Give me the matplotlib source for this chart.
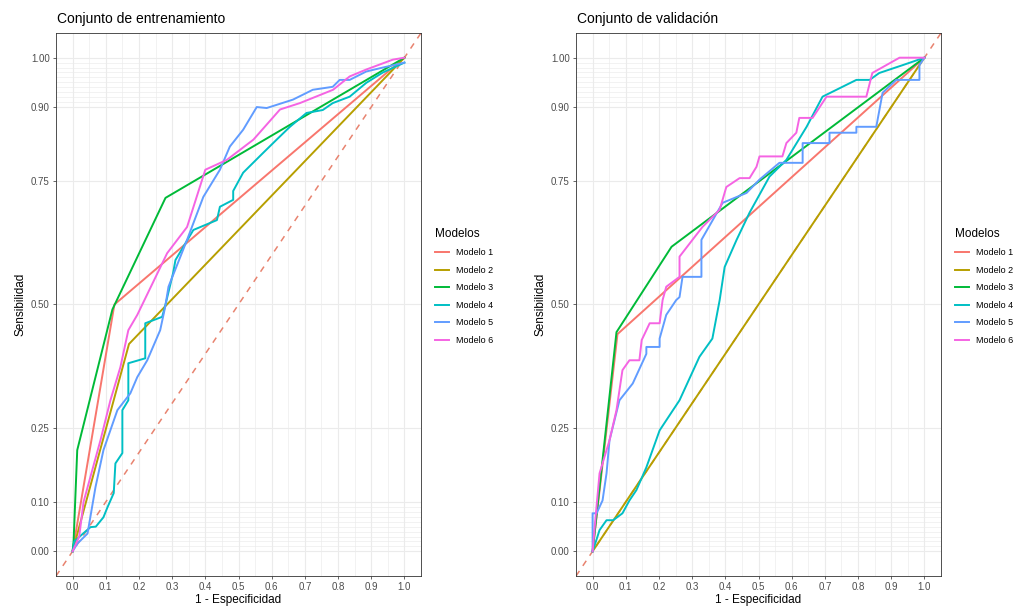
import matplotlib
matplotlib.use("Agg")
import matplotlib.pyplot as plt
import numpy as np

models = ["Modelo 1", "Modelo 2", "Modelo 3", "Modelo 4", "Modelo 5", "Modelo 6"]
colors = ["#F8766D", "#B79F00", "#00BA38", "#00BFC4", "#619CFF", "#F564E3"]

# Training set ROC curves (FPR, TPR)
train_fpr = [
    [0, 0.126, 1.0],
    [0, 0.17, 1.0],
    [0, 0.003, 0.014, 0.12, 0.28, 1.0],
    [0, 0.005, 0.03, 0.054, 0.07, 0.093, 0.105, 0.124, 0.129, 0.15, 0.15, 0.168, 0.168, 0.219, 0.219,
     0.27, 0.28, 0.303, 0.31, 0.364, 0.435, 0.444, 0.484, 0.484, 0.514, 0.574, 0.615, 0.655, 0.705,
     0.754, 0.784, 0.835, 0.885, 0.935, 1.0],
    [0, 0.015, 0.045, 0.069, 0.093, 0.135, 0.174, 0.195, 0.225, 0.264, 0.279, 0.289, 0.345, 0.394,
     0.444, 0.474, 0.514, 0.555, 0.585, 0.664, 0.724, 0.784, 0.805, 0.835, 0.885, 0.935, 1.0],
    [0, 0.02, 0.033, 0.084, 0.114, 0.144, 0.168, 0.195, 0.285, 0.345, 0.40, 0.465, 0.545, 0.625,
     0.685, 0.785, 0.835, 0.885, 0.965, 1.0],
]
train_tpr = [
    [0, 0.50, 1.0],
    [0, 0.42, 1.0],
    [0, 0.02, 0.205, 0.49, 0.716, 1.0],
    [0, 0.02, 0.035, 0.049, 0.05, 0.069, 0.089, 0.118, 0.178, 0.199, 0.286, 0.306, 0.381, 0.391, 0.462,
     0.475, 0.50, 0.564, 0.59, 0.651, 0.671, 0.698, 0.712, 0.73, 0.767, 0.807, 0.834, 0.86, 0.888,
     0.894, 0.908, 0.921, 0.949, 0.97, 0.99],
    [0, 0.016, 0.036, 0.13, 0.205, 0.286, 0.32, 0.353, 0.387, 0.448, 0.495, 0.536, 0.631, 0.718,
     0.773, 0.82, 0.854, 0.90, 0.898, 0.915, 0.935, 0.941, 0.955, 0.955, 0.972, 0.98, 0.99],
    [0, 0.03, 0.10, 0.225, 0.306, 0.373, 0.448, 0.479, 0.604, 0.657, 0.773, 0.793, 0.834, 0.895,
     0.908, 0.935, 0.962, 0.976, 0.996, 1.0],
]

# Validation set ROC curves (FPR, TPR)
val_fpr = [
    [0, 0.075, 1.0],
    [0, 1.0],
    [0, 0.072, 0.238, 1.0],
    [0, 0.01, 0.021, 0.042, 0.062, 0.09, 0.111, 0.132, 0.162, 0.202, 0.262, 0.322, 0.361, 0.383,
     0.398, 0.434, 0.473, 0.533, 0.584, 0.645, 0.693, 0.795, 0.835, 0.864, 0.935, 1.0],
    [0, 0, 0.012, 0.03, 0.042, 0.051, 0.081, 0.121, 0.162, 0.162, 0.202, 0.202, 0.222, 0.252, 0.262,
     0.271, 0.328, 0.328, 0.392, 0.464, 0.503, 0.563, 0.633, 0.633, 0.714, 0.714, 0.795, 0.795, 0.855,
     0.874, 0.915, 0.985, 0.985, 1.0],
    [0, 0.01, 0.021, 0.051, 0.072, 0.09, 0.111, 0.141, 0.148, 0.172, 0.202, 0.211, 0.222, 0.262,
     0.262, 0.301, 0.331, 0.383, 0.403, 0.443, 0.473, 0.494, 0.503, 0.572, 0.584, 0.614, 0.623,
     0.663, 0.705, 0.825, 0.843, 0.925, 1.0],
]
val_tpr = [
    [0, 0.44, 1.0],
    [0, 1.0],
    [0, 0.444, 0.617, 1.0],
    [0, 0.02, 0.043, 0.063, 0.063, 0.077, 0.103, 0.124, 0.17, 0.245, 0.306, 0.394, 0.431, 0.509,
     0.576, 0.631, 0.686, 0.759, 0.793, 0.86, 0.921, 0.955, 0.955, 0.969, 0.985, 1.0],
    [0, 0.077, 0.077, 0.103, 0.158, 0.225, 0.306, 0.34, 0.40, 0.414, 0.414, 0.431, 0.479, 0.509, 0.515,
     0.556, 0.556, 0.631, 0.706, 0.726, 0.753, 0.787, 0.787, 0.827, 0.827, 0.848, 0.848, 0.86, 0.86,
     0.929, 0.955, 0.955, 0.985, 1.0],
    [0, 0.077, 0.158, 0.225, 0.286, 0.367, 0.387, 0.387, 0.428, 0.462, 0.462, 0.509, 0.536, 0.556,
     0.597, 0.631, 0.657, 0.692, 0.738, 0.756, 0.756, 0.779, 0.80, 0.80, 0.827, 0.848, 0.878,
     0.878, 0.921, 0.921, 0.969, 1.0, 1.0],
]

titles = ["Conjunto de entrenamiento", "Conjunto de validación"]
x_ticks = [0.0, 0.1, 0.2, 0.3, 0.4, 0.5, 0.6, 0.7, 0.8, 0.9, 1.0]
y_ticks = [0.00, 0.10, 0.25, 0.50, 0.75, 0.90, 1.00]

plt.rcParams['font.family'] = ['Liberation Sans', 'DejaVu Sans']

fig = plt.figure(figsize=(10.32, 6.09), dpi=100)
ax_pos = [[56 / 1032, 1 - 576 / 609, 365 / 1032, 543 / 609],
          [576 / 1032, 1 - 576 / 609, 365 / 1032, 543 / 609]]

datasets = [(train_fpr, train_tpr), (val_fpr, val_tpr)]
for k in range(2):
    ax = fig.add_axes(ax_pos[k])
    fpr_all, tpr_all = datasets[k]
    ax.set_xlim(-0.05, 1.05)
    ax.set_ylim(-0.05, 1.05)
    # grid
    for xv in np.arange(0, 1.0001, 0.05):
        major = abs(round(xv * 10) - xv * 10) < 1e-6
        ax.axvline(xv, color="#EBEBEB", lw=0.8 if major else 0.45, zorder=0)
    minor_y = list(np.arange(0, 0.1001, 0.01)) + list(np.arange(0.9, 1.0001, 0.01))
    for yv in minor_y:
        ax.axhline(yv, color="#EBEBEB", lw=0.45, zorder=0)
    for yv in y_ticks:
        ax.axhline(yv, color="#EBEBEB", lw=0.8, zorder=0)
    ax.plot([-0.05, 1.05], [-0.05, 1.05], color="#E8836F", lw=1.1, ls=(0, (4, 4)), zorder=1)
    for i in range(6):
        ax.plot(fpr_all[i], tpr_all[i], color=colors[i], lw=1.4, label=models[i], zorder=2)
    ax.set_xticks(x_ticks)
    ax.set_xticklabels(["%.1f" % v for v in x_ticks])
    ax.set_yticks(y_ticks)
    ax.set_yticklabels(["%.2f" % v for v in y_ticks])
    ax.tick_params(axis="both", labelsize=7, colors="#4D4D4D", length=2.5, width=0.6, pad=2)
    for sp in ax.spines.values():
        sp.set_color("#333333")
        sp.set_linewidth(0.6)
    ax.set_xlabel("1 - Especificidad", fontsize=8.5, labelpad=1)
    ax.set_ylabel("Sensibilidad", fontsize=8.5, labelpad=3)
    ax.set_title(titles[k], fontsize=10, loc="left", x=0.003, pad=7)
    leg = ax.legend(loc="upper left", bbox_to_anchor=(1.025, 0.65), frameon=False,
                    title="Modelos", fontsize=6.5, title_fontsize=8.5, handlelength=1.6,
                    labelspacing=0.95, handletextpad=0.8, borderpad=0)
    leg._legend_box.align = "left"

fig.savefig("out.png", dpi=100)
